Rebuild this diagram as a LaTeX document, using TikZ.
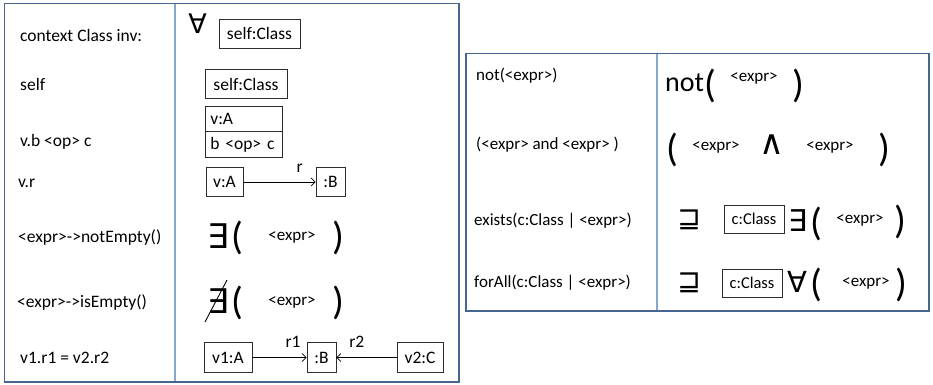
\documentclass[tikz,border=0pt]{standalone}
\usepackage{fontspec}
\setmainfont{Carlito}
\newfontfamily\symfont{DejaVu Sans}
\usetikzlibrary{arrows.meta,calc}
\definecolor{outerblue}{RGB}{70,102,145}
\definecolor{divblue}{RGB}{135,165,205}
\definecolor{boxgray}{RGB}{45,45,45}
\begin{document}
\begin{tikzpicture}[x=1pt,y=-1pt,
  lbl/.style={anchor=west,inner sep=0pt,font=\fontsize{17.5}{20}\selectfont},
  lbltwo/.style={anchor=west,inner sep=0pt,font=\fontsize{17}{20}\selectfont},
  obj/.style={draw=boxgray,line width=0.7pt,inner sep=0pt,minimum height=29pt,font=\fontsize{17.5}{20}\selectfont},
  objsm/.style={draw=boxgray,line width=0.7pt,inner sep=0pt,minimum height=28pt,minimum width=60pt,font=\fontsize{16.5}{19}\selectfont},
  splitpart/.style={draw=boxgray,line width=0.7pt,anchor=north west,inner xsep=5pt,inner ysep=0pt,text width=67pt,align=left,font=\fontsize{17.5}{20}\selectfont},
  qsym/.style={inner sep=0pt},
  bigp/.style={inner sep=0pt,font=\fontsize{39}{42}\selectfont},
  expr/.style={inner sep=0pt,font=\fontsize{17}{20}\selectfont},
  rolelbl/.style={inner sep=0pt,font=\fontsize{17.5}{20}\selectfont},
  assoc/.style={line width=0.7pt,draw=black,-{Straight Barb[length=4pt,width=8pt]}},
  frameline/.style={draw=outerblue,line width=1.5pt},
  divline/.style={draw=divblue,line width=1.5pt}
]
\path[use as bounding box] (0,0) rectangle (933,384);

% ---------- left table ----------
\draw[frameline] (4.5,3.5) rectangle (459,382);
\draw[divline] (175,4.25) -- (175,381.25);

\node[lbl] (t1) at (20,35) {context Class inv:};
\node[lbl] (t2) at (20,84) {self};
\node[lbl] (t3) at (20,142) {v.b <op> c};
\node[lbl] (t4) at (18,183) {v.r};
\node[lbl] (t5) at (18,238) {<expr>->notEmpty()};
\node[lbl] (t6) at (17,302) {<expr>->isEmpty()};
\node[lbl] (t7) at (20,358) {v1.r1 = v2.r2};

% row 1
\node[qsym,font=\symfont\fontsize{27}{29}\selectfont] (fa1) at (197.5,24) {∀};
\node[obj,minimum width=81pt] (sc1) at (259.5,33.5) {self:Class};
% row 2
\node[obj,minimum width=82pt] (sc2) at (246,84) {self:Class};
% row 3
\node[splitpart,minimum height=25pt] (va1) at (205,106) {v:A};
\node[splitpart,minimum height=26pt] (bop) at (205,131) {b <op> c};
% row 4
\node[obj,minimum width=37pt] (va2) at (224.5,182) {v:A};
\node[obj,minimum width=29pt] (b1) at (330.5,182) {:B};
\draw[assoc] (va2) -- (b1) node[rolelbl,pos=0.78,above=9pt] (r) {r};
% row 5
\node[qsym,font=\symfont\fontsize{34}{36}\selectfont] (ex1) at (218,236) {∃};
\node[bigp] (lp1) at (237.5,238) {(};
\node[expr] (e1) at (292,237) {<expr>};
\node[bigp] (rp1) at (338,238) {)};
% row 6
\node[qsym,font=\symfont\fontsize{34}{36}\selectfont] (ex2) at (218,301) {∃};
\node[bigp] (lp2) at (237.5,303) {(};
\node[expr] (e2) at (292,302) {<expr>};
\node[bigp] (rp2) at (338,303) {)};
\draw[line width=0.9pt] ([shift={(-13,21)}]ex2.center) -- ([shift={(9,-21)}]ex2.center);
% row 7
\node[obj,minimum width=48pt,minimum height=30pt] (v1a) at (228,357.5) {v1:A};
\node[obj,minimum width=29pt,minimum height=30pt] (b2) at (321.5,357.5) {:B};
\node[obj,minimum width=46pt,minimum height=30pt] (v2c) at (420,357.5) {v2:C};
\draw[assoc] (v1a) -- (b2) node[rolelbl,pos=0.75,above=10pt] (r1) {r1};
\draw[assoc] (v2c) -- (b2) node[rolelbl,pos=0.66,above=10pt] (r2) {r2};

% ---------- right table ----------
\draw[frameline] (466,53.5) rectangle (929,311);
\draw[divline] (657,54.25) -- (657,310.25);

\node[lbltwo] (u1) at (476,76) {not(<expr>)};
\node[lbltwo] (u2) at (476,145) {(<expr> and <expr> )};
\node[lbltwo] (u3) at (474,221) {exists(c:Class | <expr>)};
\node[lbltwo] (u4) at (474,283) {forAll(c:Class | <expr>)};

% not row
\node[inner sep=0pt,font=\fontsize{28}{32}\selectfont] (nt) at (684.5,83) {not};
\node[bigp] (lp3) at (710,86) {(};
\node[expr] (e3) at (754,78) {<expr>};
\node[bigp] (rp3) at (798,86) {)};
% and row
\node[bigp] (lp4) at (672.5,150) {(};
\node[expr] (e4) at (716,147) {<expr>};
\node[qsym,font=\symfont\fontsize{34}{36}\selectfont] (andop) at (772,145) {∧};
\node[expr] (e5) at (830,147) {<expr>};
\node[bigp] (rp4) at (884,150) {)};
% exists row
\node[qsym,font=\symfont\fontsize{28}{30}\selectfont] (sq1) at (689,220) {⊒};
\node[objsm] (cc1) at (754,219) {c:Class};
\node[qsym,font=\symfont\fontsize{30}{32}\selectfont] (ex3) at (798,221) {∃};
\node[bigp] (lp5) at (816,224) {(};
\node[expr] (e6) at (860,220) {<expr>};
\node[bigp] (rp5) at (900,222) {)};
% forall row
\node[qsym,font=\symfont\fontsize{28}{30}\selectfont] (sq2) at (689,283) {⊒};
\node[objsm] (cc2) at (752,283) {c:Class};
\node[qsym,font=\symfont\fontsize{29}{31}\selectfont] (fa2) at (797,282) {∀};
\node[bigp] (lp6) at (816,285) {(};
\node[expr] (e7) at (866,283) {<expr>};
\node[bigp] (rp6) at (901,285) {)};
\end{tikzpicture}
\end{document}
